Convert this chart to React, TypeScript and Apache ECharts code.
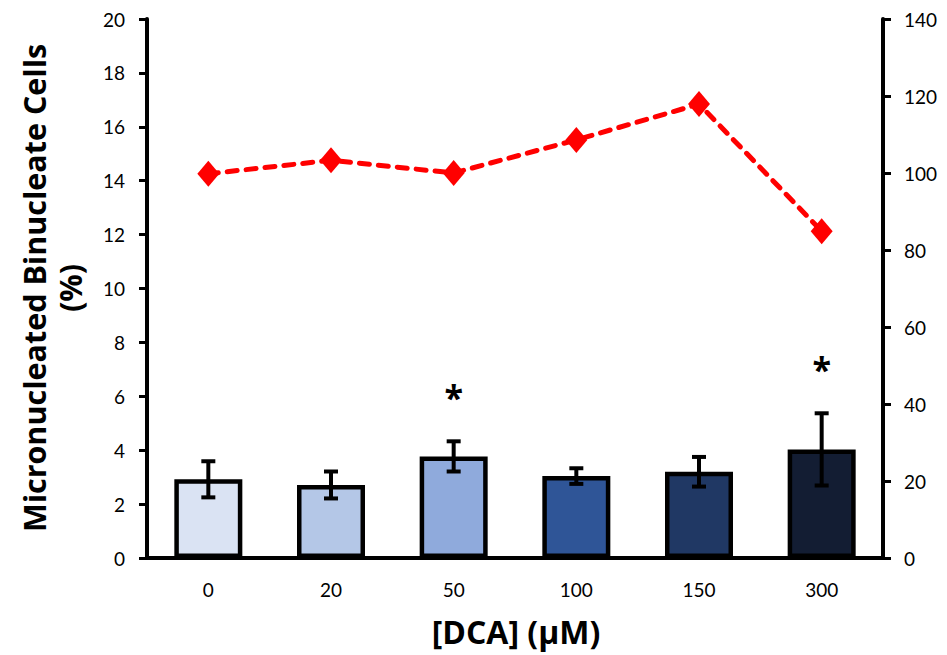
import React, { useEffect, useRef } from "react";
import * as echarts from "echarts";

const categories = ["0", "20", "50", "100", "150", "300"];
const barValues = [2.92, 2.71, 3.77, 3.04, 3.2, 4.03];
const barErrors = [0.67, 0.5, 0.56, 0.29, 0.55, 1.34];
const significant = [false, false, true, false, false, true];
const lineValues = [99.8, 103.3, 100.0, 108.6, 117.9, 84.9];
const barColors = ["#DAE3F3", "#B4C7E7", "#8FAADC", "#2F5597", "#203864", "#131D33"];
const leftTicks = [0, 2, 4, 6, 8, 10, 12, 14, 16, 18, 20];
const rightTicks = [0, 20, 40, 60, 80, 100, 120, 140];

const FONT = "Lato";
const TFONT = "'Open Sans'";

export default function App() {
  const ref = useRef<HTMLDivElement>(null);
  useEffect(() => {
    if (!ref.current) return;
    const chart = echarts.init(ref.current, undefined, { renderer: "svg" });
    const option: any = {
      animation: false,
      backgroundColor: "#fff",
      grid: { left: 147, right: 64, top: 19, bottom: 97 },
      xAxis: {
        type: "category",
        data: categories,
        axisLine: { lineStyle: { color: "#000", width: 4 } },
        axisTick: { alignWithLabel: true, length: 6, lineStyle: { color: "#000", width: 3 } },
        axisLabel: { color: "#000", fontFamily: FONT, fontSize: 19, margin: 22 },
      },
      yAxis: [
        {
          type: "value",
          min: leftTicks[0],
          max: leftTicks[leftTicks.length - 1],
          interval: 2,
          splitLine: { show: false },
          axisLine: { show: true, lineStyle: { color: "#000", width: 4 } },
          axisTick: { show: true, length: 8, lineStyle: { color: "#000", width: 3 } },
          axisLabel: { color: "#000", fontFamily: FONT, fontSize: 19, margin: 22 },
        },
        {
          type: "value",
          position: "right",
          min: rightTicks[0],
          max: rightTicks[rightTicks.length - 1],
          interval: 20,
          splitLine: { show: false },
          axisLine: { show: true, lineStyle: { color: "#000", width: 4 } },
          axisTick: { show: true, length: 8, lineStyle: { color: "#000", width: 3 } },
          axisLabel: { color: "#000", fontFamily: FONT, fontSize: 19, margin: 21 },
        },
      ],
      series: [
        {
          type: "bar",
          data: barValues.map((v, i) => ({ value: v, itemStyle: { color: barColors[i] } })),
          barWidth: 68,
          itemStyle: { borderColor: "#000", borderWidth: 4.5 },
          z: 2,
        },
        {
          type: "custom",
          z: 3,
          data: barValues.map((v, i) => [i, v, barErrors[i], significant[i] ? 1 : 0]),
          renderItem: (params: any, api: any) => {
            const i = api.value(0);
            const v = api.value(1);
            const e = api.value(2);
            const sig = api.value(3);
            const top = api.coord([i, v + e]);
            const bot = api.coord([i, v - e]);
            const cap = 7;
            const st = { stroke: "#000", lineWidth: 4 };
            const children: any[] = [
              { type: "line", shape: { x1: top[0], y1: top[1], x2: bot[0], y2: bot[1] }, style: st },
              { type: "line", shape: { x1: top[0] - cap, y1: top[1], x2: top[0] + cap, y2: top[1] }, style: st },
              { type: "line", shape: { x1: bot[0] - cap, y1: bot[1], x2: bot[0] + cap, y2: bot[1] }, style: st },
            ];
            if (sig) {
              children.push({
                type: "text",
                x: top[0],
                y: top[1] - 44,
                style: {
                  text: "*",
                  fill: "#000",
                  font: `bold 34px ${TFONT}`,
                  textAlign: "center",
                  textVerticalAlign: "middle",
                },
              });
            }
            return { type: "group", children };
          },
        },
        {
          type: "line",
          yAxisIndex: 1,
          data: lineValues,
          symbol: "diamond",
          symbolSize: [22, 26],
          itemStyle: { color: "#FF0000" },
          lineStyle: { color: "#FF0000", width: 5, type: [10, 9], cap: "round" },
          z: 4,
        },
      ],
      graphic: [
        {
          type: "text",
          x: 52,
          y: 288,
          rotation: Math.PI / 2,
          style: {
            text: "Micronucleated Binucleate Cells\n(%)",
            fill: "#000",
            font: `bold 30.5px ${TFONT}`,
            lineHeight: 36,
            textAlign: "center",
            textVerticalAlign: "middle",
          },
        },
        {
          type: "text",
          x: 516,
          y: 631,
          style: {
            text: "[DCA] (µM)",
            fill: "#000",
            font: `bold 32px ${TFONT}`,
            textAlign: "center",
            textVerticalAlign: "middle",
          },
        },
      ],
    };
    chart.setOption(option);
    return () => chart.dispose();
  }, []);
  return <div ref={ref} style={{ width: 947, height: 655, position: "absolute", left: 0, top: 0 }} />;
}
